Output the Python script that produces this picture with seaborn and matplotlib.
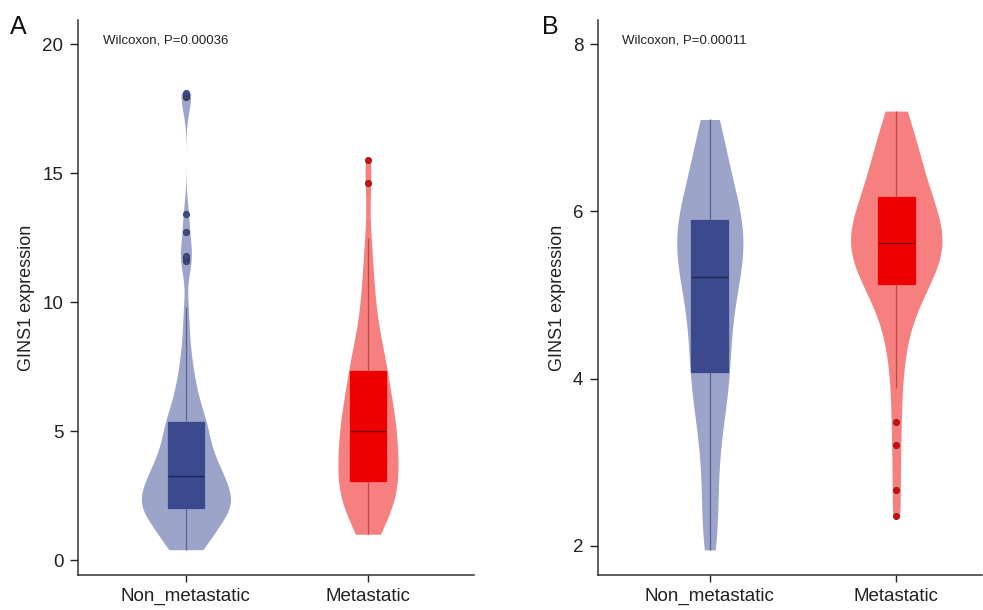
import numpy as np
import pandas as pd
import matplotlib
matplotlib.use('Agg')
import matplotlib.pyplot as plt
import seaborn as sns

# groups and values
groups = ['Non_metastatic', 'Metastatic']

a_non = [0.40, 0.44, 0.50, 0.57, 0.65, 0.74, 0.84, 0.95, 1.06, 1.17, 1.28, 1.38, 1.48, 1.57, 1.65,
         1.72, 1.78, 1.84, 1.89, 1.93, 1.96, 1.98,
         2.02, 2.07, 2.12, 2.17, 2.22, 2.27, 2.32, 2.37, 2.42, 2.48, 2.54, 2.60, 2.67, 2.74, 2.81,
         2.88, 2.95, 3.02, 3.09, 3.15, 3.20, 3.24,
         3.26, 3.34, 3.42, 3.50, 3.58, 3.66, 3.75, 3.84, 3.93, 4.02, 4.12, 4.22, 4.32, 4.43, 4.54,
         4.65, 4.77, 4.89, 5.01, 5.13, 5.24, 5.32,
         5.40, 5.55, 5.70, 5.88, 6.06, 6.26, 6.48, 6.72, 7.00, 7.32, 7.70, 8.20, 8.90, 9.80,
         11.6, 11.7, 11.8, 12.7, 13.4, 17.95, 18.0, 18.1]
a_met = [1.00, 1.22, 1.42, 1.60, 1.76, 1.91, 2.05, 2.19, 2.33, 2.47, 2.61, 2.74, 2.87, 2.96, 3.02,
         3.09, 3.24, 3.38, 3.52, 3.65, 3.78, 3.91, 4.04, 4.17, 4.30, 4.43, 4.56, 4.69, 4.82, 4.96,
         5.04, 5.17, 5.30, 5.44, 5.58, 5.72, 5.87, 6.02, 6.18, 6.34, 6.51, 6.68, 6.86, 7.05, 7.28,
         7.45, 7.62, 7.80, 8.00, 8.25, 8.55, 8.90, 9.30, 9.75, 10.25, 10.85, 11.60, 12.50,
         14.6, 15.5]
b_non = [1.95, 2.10, 2.30, 2.50, 2.72, 2.95, 3.15, 3.32, 3.46, 3.58, 3.69, 3.79, 3.88, 3.97, 4.05,
         4.09, 4.19, 4.28, 4.37, 4.46, 4.54, 4.62, 4.70, 4.78, 4.86, 4.94, 5.01, 5.08, 5.14, 5.20,
         5.24, 5.29, 5.34, 5.39, 5.44, 5.49, 5.54, 5.59, 5.64, 5.69, 5.74, 5.78, 5.82, 5.86, 5.89,
         5.93, 5.98, 6.04, 6.10, 6.17, 6.24, 6.32, 6.40, 6.49, 6.58, 6.68, 6.78, 6.88, 6.98, 7.10]
b_met = [2.35, 2.67, 3.20, 3.48, 3.89, 4.15, 4.37, 4.55, 4.70, 4.82, 4.92, 5.00, 5.06, 5.10,
         5.14, 5.19, 5.24, 5.29, 5.34, 5.38, 5.42, 5.46, 5.50, 5.53, 5.56, 5.58, 5.60, 5.61,
         5.63, 5.67, 5.71, 5.75, 5.79, 5.83, 5.87, 5.91, 5.95, 5.99, 6.03, 6.07, 6.11, 6.15,
         6.22, 6.28, 6.34, 6.40, 6.46, 6.52, 6.59, 6.66, 6.74, 6.82, 6.91, 7.00, 7.10, 7.20]

p_texts = ['Wilcoxon, P=0.00036', 'Wilcoxon, P=0.00011']
y_ticks = [[0, 5, 10, 15, 20], [2, 4, 6, 8]]

violin_col = {'Non_metastatic': '#9ca4c9', 'Metastatic': '#f67f7f'}
box_col = {'Non_metastatic': '#3b4a8e', 'Metastatic': '#ee0000'}
whisk_col = {'Non_metastatic': '#59618f', 'Metastatic': '#b84a4a'}
med_col = {'Non_metastatic': '#1c2652', 'Metastatic': '#7a0000'}

sns.set_style('ticks')
plt.rcParams['font.family'] = ['Liberation Sans', 'DejaVu Sans']

fig = plt.figure(figsize=(9.83, 6.10), dpi=100)
ax_a = fig.add_axes([0.0793, 0.0574, 0.4028, 0.9098])
ax_b = fig.add_axes([0.6083, 0.0574, 0.3907, 0.9098])

panels = [
    (ax_a, {'Non_metastatic': a_non, 'Metastatic': a_met},
     {'Non_metastatic': 0.49, 'Metastatic': 0.33}, {'Non_metastatic': 0.17, 'Metastatic': 0.30}),
    (ax_b, {'Non_metastatic': b_non, 'Metastatic': b_met},
     {'Non_metastatic': 0.355, 'Metastatic': 0.49}, {'Non_metastatic': 0.32, 'Metastatic': 0.36}),
]

for i, (ax, vals, widths, bws) in enumerate(panels):
    for g in groups:
        df = pd.DataFrame({'group': g, 'value': vals[g]})
        sns.violinplot(data=df, x='group', y='value', order=groups, inner=None, cut=0,
                       bw_method=bws[g], density_norm='width', width=widths[g],
                       color=violin_col[g], saturation=1, linewidth=0, ax=ax)
    for g in groups:
        df = pd.DataFrame({'group': g, 'value': vals[g]})
        sns.boxplot(data=df, x='group', y='value', order=groups, width=0.2,
                    color=box_col[g], saturation=1, linewidth=0.9, showcaps=False,
                    boxprops=dict(facecolor=box_col[g], edgecolor=box_col[g]),
                    whiskerprops=dict(color=whisk_col[g], linewidth=0.9),
                    medianprops=dict(color=med_col[g], linewidth=1.0),
                    flierprops=dict(marker='o', markersize=4.5, markerfacecolor=box_col[g],
                                    markeredgecolor='#333333', markeredgewidth=0.5),
                    ax=ax)
    ax.set_yticks(y_ticks[i])
    ax.set_xlabel('')
    ax.set_ylabel('GINS1 expression', fontsize=13, color='#222222', labelpad=5)
    ax.tick_params(axis='both', labelsize=13.5, colors='#222222', width=1)
    ax.tick_params(axis='y', length=6, pad=4.5)
    ax.tick_params(axis='x', length=5, pad=4.5)
    for s in ['left', 'bottom']:
        ax.spines[s].set_color('#333333')
        ax.spines[s].set_linewidth(1.1)
    sns.despine(ax=ax)
    ax.text(0.063, 0.957, p_texts[i], transform=ax.transAxes, fontsize=9.5, color='#222222',
            va='baseline')

ax_a.set_xlim(-0.593, 1.582)
ax_a.set_ylim(-0.58, 20.93)
ax_b.set_xlim(-0.60, 1.46)
ax_b.set_ylim(1.65, 8.29)

fig.text(0.010, 0.975, 'A', fontsize=18, color='#111111', va='top')
fig.text(0.551, 0.975, 'B', fontsize=18, color='#111111', va='top')

plt.savefig('out.png', dpi=100)
